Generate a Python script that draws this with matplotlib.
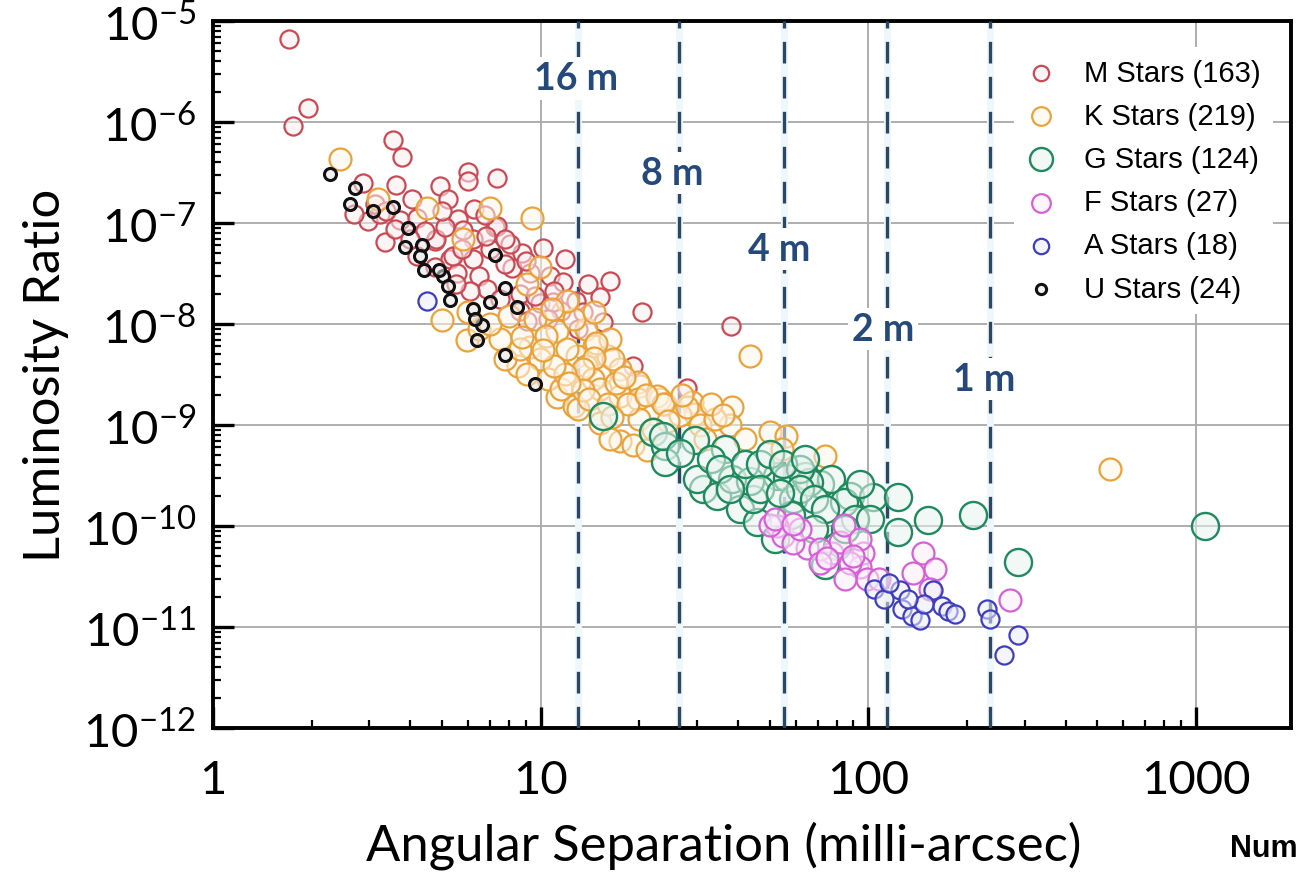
import matplotlib
matplotlib.use('Agg')
import matplotlib.pyplot as plt
from matplotlib.ticker import LogLocator, NullFormatter
from matplotlib.colors import to_rgb

# values: angular separation (milli-arcsec), luminosity ratio
m_sep = [1.71, 1.76, 1.95, 3.54, 3.77, 3.63, 4.93, 5.2, 6.0, 6.0, 7.35, 6.26, 2.87, 5.6, 7.25,
         3.34, 2.98, 3.72, 4.75, 5.3, 6.2, 6.5, 5.55, 4.75, 8.8, 10.2, 9.3, 10.7, 9.95, 8.65,
         6.85, 7.35, 11.9, 11.7, 13.9, 16.3, 15.2, 20.4, 11.5, 10.9, 8.2, 5.4, 4.8, 6.2, 9.6,
         19.1, 28, 38, 4.2, 8.06, 7.8, 7.0, 5.75, 5.1, 4.43, 4.0, 3.6, 3.23, 4.05, 8.65,
         7.5, 6.1, 5.5, 9.1, 10.5, 13.0, 15.5, 3.12, 2.7, 3.37, 4.2, 5.0, 6.75,
         6.8, 7.8, 5.8, 9.0, 11.0, 12.8, 13.5]
m_lum = [6.6e-6, 9.1e-7, 1.38e-6, 6.7e-7, 4.5e-7, 2.4e-7, 2.3e-7, 1.73e-7, 3.2e-7, 2.6e-7,
         2.8e-7, 1.38e-7, 2.5e-7, 1.1e-7, 9.1e-8, 6.5e-8, 1.05e-7, 1.07e-7, 6.6e-8, 4.4e-8,
         4.4e-8, 3.0e-8, 3.2e-8, 3.7e-8, 5.0e-8, 5.6e-8, 3.2e-8, 3.0e-8, 1.6e-8, 1.97e-8,
         2.22e-8, 9.3e-8, 4.4e-8, 2.6e-8, 2.5e-8, 2.65e-8, 1.85e-8, 1.3e-8, 1.33e-8, 1.65e-8,
         3.6e-8, 4.7e-8, 6.9e-8, 6.9e-8, 1.9e-8, 3.8e-9, 2.3e-9, 9.5e-9, 1.12e-7, 6.2e-8,
         3.9e-8, 5.5e-8, 5.5e-8, 9.1e-8, 8.3e-8, 6.9e-8, 8.7e-8, 1.22e-7, 1.73e-7, 1.35e-8,
         1.77e-8, 2.1e-8, 2.5e-8, 1.08e-8, 1.12e-8, 8.9e-9, 1.05e-8, 1.55e-7, 1.22e-7, 1.3e-7,
         4.7e-8, 1.3e-7, 1.2e-7,
         7.5e-8, 7.0e-8, 8.5e-8, 4.2e-8, 2.1e-8, 1.7e-8, 1.3e-8]

k_sep = [2.44, 4.5, 7.0, 9.4, 3.2, 5.0, 5.95, 9.1, 9.6, 11.2, 9.3, 8.5, 11.2, 13.8, 14.5,
         16.0, 17.5, 20.1, 23.1, 15.2, 12.9, 16.3, 12.6, 13.8, 14.8, 16.6, 14.6, 19.8, 14.4,
         12.6, 15.2, 17.5, 19.8, 22.6, 24.0, 29.0, 29.6, 26.6, 38.5, 37.8, 43.5, 50, 56, 54.5,
         17.5, 19.1, 21.1, 10.4, 12.0, 13.5, 23.7, 28, 74, 546, 6.5, 7.5, 7.8, 8.65, 9.95,
         10.5, 11.5, 9.1, 11.9, 13, 15.2, 16.3, 20, 22, 30.6, 34, 31.7, 42, 9.95, 5.8, 12.0, 14.5,
         13.5, 14, 16, 17, 18.5, 21, 18, 12.2, 11, 10.2, 8.8, 7, 6, 8, 10.8, 16.5, 24.5, 27,
         33, 36]
k_lum = [4.3e-7, 1.4e-7, 1.42e-7, 1.12e-7, 1.73e-7, 1.1e-8, 7.0e-9, 2.5e-8, 1.12e-8, 8.5e-9,
         5.9e-9, 3.8e-9, 1.9e-9, 8.9e-9, 6.1e-9, 4.8e-9, 3.6e-9, 2.45e-9, 1.8e-9, 3.1e-9,
         4.8e-9, 7.1e-9, 1.12e-8, 3.8e-9, 6.5e-9, 4.5e-9, 4.6e-9, 2.65e-9, 2.85e-9, 1.55e-9,
         2.27e-9, 1.95e-9, 1.8e-9, 1.95e-9, 1.6e-9, 1.7e-9, 1.3e-9, 1.25e-9, 1.5e-9, 9.9e-10,
         4.8e-9, 8.5e-10, 7.8e-10, 5.8e-10, 6.9e-10, 6.3e-10, 5.6e-10, 7.6e-9, 5.6e-9, 3.6e-9,
         1.6e-9, 1.5e-9, 4.9e-10, 3.7e-10, 8.9e-9, 7.1e-9, 4.5e-9, 5.6e-9, 4.5e-9, 2.85e-9,
         2.27e-9, 3.2e-9, 3.2e-9, 1.44e-9, 1.05e-9, 7.3e-10, 1.15e-9, 9.1e-10, 1.0e-9, 1.15e-9,
         7.3e-10, 7.3e-10, 3.7e-8, 6.9e-8, 1.7e-8, 1.3e-8,
         2.2e-9, 1.8e-9, 1.6e-9, 2.6e-9, 1.6e-9, 2.0e-9, 3.0e-9, 2.6e-9, 3.8e-9, 5.5e-9,
         7.5e-9, 1.0e-8, 1.3e-8, 1.2e-8, 1.4e-8, 1.2e-9, 1.1e-9, 2.0e-9, 1.6e-9, 1.25e-9]

g_sep = [15.5, 22, 24.0, 24.0, 29.6, 36.5, 31.3, 40.6, 30, 23.7, 34.5, 45.6, 52.7, 56.5, 64.3,
         71, 77, 88, 103, 123, 123, 80, 74, 84, 59, 44.5, 38.5, 43.5, 152, 208, 286, 1064, 66,
         62, 26.6, 33, 35.3, 42, 46.7, 50, 55, 62, 68.5, 74, 94, 91, 101, 68.5, 85, 52, 58,
         46.7, 37.8, 53.7, 64]
g_lum = [1.22e-9, 8.6e-10, 6.2e-10, 4.3e-10, 7.1e-10, 5.8e-10, 2.3e-10, 1.47e-10, 2.9e-10,
         7.8e-10, 1.97e-10, 1.1e-10, 3.1e-10, 3.0e-10, 3.1e-10, 2.6e-10, 2.9e-10, 2.0e-10,
         1.95e-10, 1.95e-10, 8.8e-11, 6.4e-11, 4.1e-11, 1.73e-10, 1.85e-10, 1.85e-10, 2.9e-10,
         2.8e-10, 1.15e-10, 1.3e-10, 4.4e-11, 1.0e-10, 2.7e-10, 3.7e-10, 5.3e-10, 4.6e-10,
         3.7e-10, 4.1e-10, 4.1e-10, 5.2e-10, 4.1e-10, 2.3e-10, 1.85e-10, 1.47e-10, 2.6e-10,
         1.17e-10, 1.17e-10, 9.3e-11, 9.3e-11, 7.4e-11, 1.3e-10, 2.3e-10, 2.3e-10, 2.1e-10,
         4.6e-10]

f_sep = [52.7, 55, 50, 65, 77.7, 81.9, 84, 96, 94, 99, 147, 160, 154, 270, 59, 71, 88, 108,
         62, 71, 94, 52, 59, 85, 137, 90, 75]
f_lum = [1.0e-10, 8.0e-11, 1.03e-10, 6.1e-11, 5.4e-11, 7.0e-11, 1.03e-10, 5.4e-11, 3.9e-11,
         3.0e-11, 5.4e-11, 3.75e-11, 2.4e-11, 1.85e-11, 6.8e-11, 5.9e-11, 4.3e-11, 3.0e-11,
         9.3e-11, 4.3e-11, 7.4e-11, 1.17e-10, 1.05e-10, 3.0e-11, 3.4e-11, 5.0e-11, 4.8e-11]

a_sep = [104, 125, 127, 136, 144, 158, 168, 175, 230, 235, 286, 260, 4.5, 112, 148, 184, 116, 132]
a_lum = [2.4e-11, 2.3e-11, 1.51e-11, 1.3e-11, 1.17e-11, 2.3e-11, 1.6e-11, 1.45e-11, 1.51e-11,
         1.2e-11, 8.3e-12, 5.3e-12, 1.7e-8, 1.9e-11, 1.7e-11, 1.35e-11, 2.7e-11, 1.9e-11]

u_sep = [2.28, 2.71, 2.62, 3.08, 3.54, 3.94, 3.85, 4.34, 4.28, 4.40, 5.03, 5.21, 5.29, 6.21,
         6.62, 6.39, 7.78, 7.26, 8.47, 7.00, 9.6, 6.3, 7.8, 4.9]
u_lum = [3.06e-7, 2.22e-7, 1.54e-7, 1.31e-7, 1.44e-7, 8.9e-8, 5.8e-8, 6.1e-8, 4.7e-8, 3.4e-8,
         3.0e-8, 2.38e-8, 1.73e-8, 1.41e-8, 9.8e-9, 7.0e-9, 4.9e-9, 4.8e-8, 1.47e-8, 1.65e-8,
         2.55e-9, 1.12e-8, 2.27e-8, 3.4e-8]

line_sep = [13.0, 26.4, 55.3, 113.7, 235.0]
line_lab = ['16 m', '8 m', '4 m', '2 m', '1 m']
lab_sep = [12.8, 25.2, 53.5, 111, 226]
lab_lum = [2.7e-6, 3.1e-7, 5.5e-8, 8.9e-9, 2.85e-9]

plt.rcParams['font.family'] = ['Lato', 'DejaVu Sans']
plt.rcParams['axes.unicode_minus'] = False

fig = plt.figure(figsize=(12.97, 8.79), dpi=100)
ax = fig.add_axes([0.1642, 0.1706, 0.8312, 0.8044])
ax.set_xscale('log')
ax.set_yscale('log')
ax.set_xlim(1, 1950)
ax.set_ylim(1e-12, 1e-5)

ax.grid(True, which='major', color='#a8a8a8', lw=1.3)
ax.set_axisbelow(True)


def tint(c, a):
    r, g, b = to_rgb(c)
    return (r + (1 - r) * a, g + (1 - g) * a, b + (1 - b) * a, 0.55)


series = [
    (m_sep, m_lum, '#c94a55', 170, 1.6, 'M Stars (163)'),
    (k_sep, k_lum, '#eaa33a', 250, 1.6, 'K Stars (219)'),
    (g_sep, g_lum, '#1f8a5e', 380, 1.7, 'G Stars (124)'),
    (f_sep, f_lum, '#d660d6', 250, 1.6, 'F Stars (27)'),
    (a_sep, a_lum, '#3d3dc0', 170, 1.6, 'A Stars (18)'),
    (u_sep, u_lum, '#111111', 75, 2.2, 'U Stars (24)'),
]
for i, (xs, ys, col, sz, lw, lab) in enumerate(series):
    ax.scatter(xs, ys, s=sz, facecolors=[tint(col, 0.9)], edgecolors=col,
               linewidths=lw, label=lab, zorder=4 + i)

for xs in line_sep:
    ax.axvline(xs, color='#eef8fc', lw=5, zorder=2)
    ax.axvline(xs, color='#2b4764', lw=2.4, ls=(0, (6.5, 4)), zorder=3)
for xs, lab, yl in zip(lab_sep, line_lab, lab_lum):
    ax.text(xs, yl, lab, ha='center', va='center', fontsize=27, fontweight='bold',
            color='#24497a', zorder=3.5,
            bbox=dict(facecolor='white', edgecolor='none', pad=3))

for s in ax.spines.values():
    s.set_linewidth(2.8)
ax.tick_params(which='both', direction='in', top=False, right=False)
ax.tick_params(which='major', length=15, width=2.4, labelsize=34)
ax.tick_params(axis='y', which='major', pad=12)
ax.tick_params(axis='x', which='major', pad=22)
ax.tick_params(which='minor', length=6, width=1.6)
ax.yaxis.set_major_locator(LogLocator(base=10, numticks=20))
ax.yaxis.set_minor_locator(LogLocator(base=10, subs=range(2, 10), numticks=20))
ax.yaxis.set_minor_formatter(NullFormatter())
ax.xaxis.set_minor_formatter(NullFormatter())
ax.set_xticks([1, 10, 100, 1000])
ax.set_xticklabels(['1', '10', '100', '1000'])

ax.set_xlabel('Angular Separation (milli-arcsec)', fontsize=36.5)
ax.xaxis.set_label_coords(0.474, -0.13)
ax.set_ylabel('Luminosity Ratio', fontsize=36.5, labelpad=10)

leg = ax.legend(loc='upper right', bbox_to_anchor=(0.983, 0.963), borderaxespad=0,
                frameon=True, fancybox=False, edgecolor='none', framealpha=1,
                prop={'family': 'Liberation Sans', 'size': 21}, labelspacing=0.52,
                handlelength=1.0, handletextpad=1.0, markerscale=0.85, borderpad=0.4)
leg.set_zorder(20)

fig.text(0.948, 0.025, 'Num', fontsize=22, fontweight='bold', family='Liberation Sans')

fig.savefig('out.png', dpi=100)
